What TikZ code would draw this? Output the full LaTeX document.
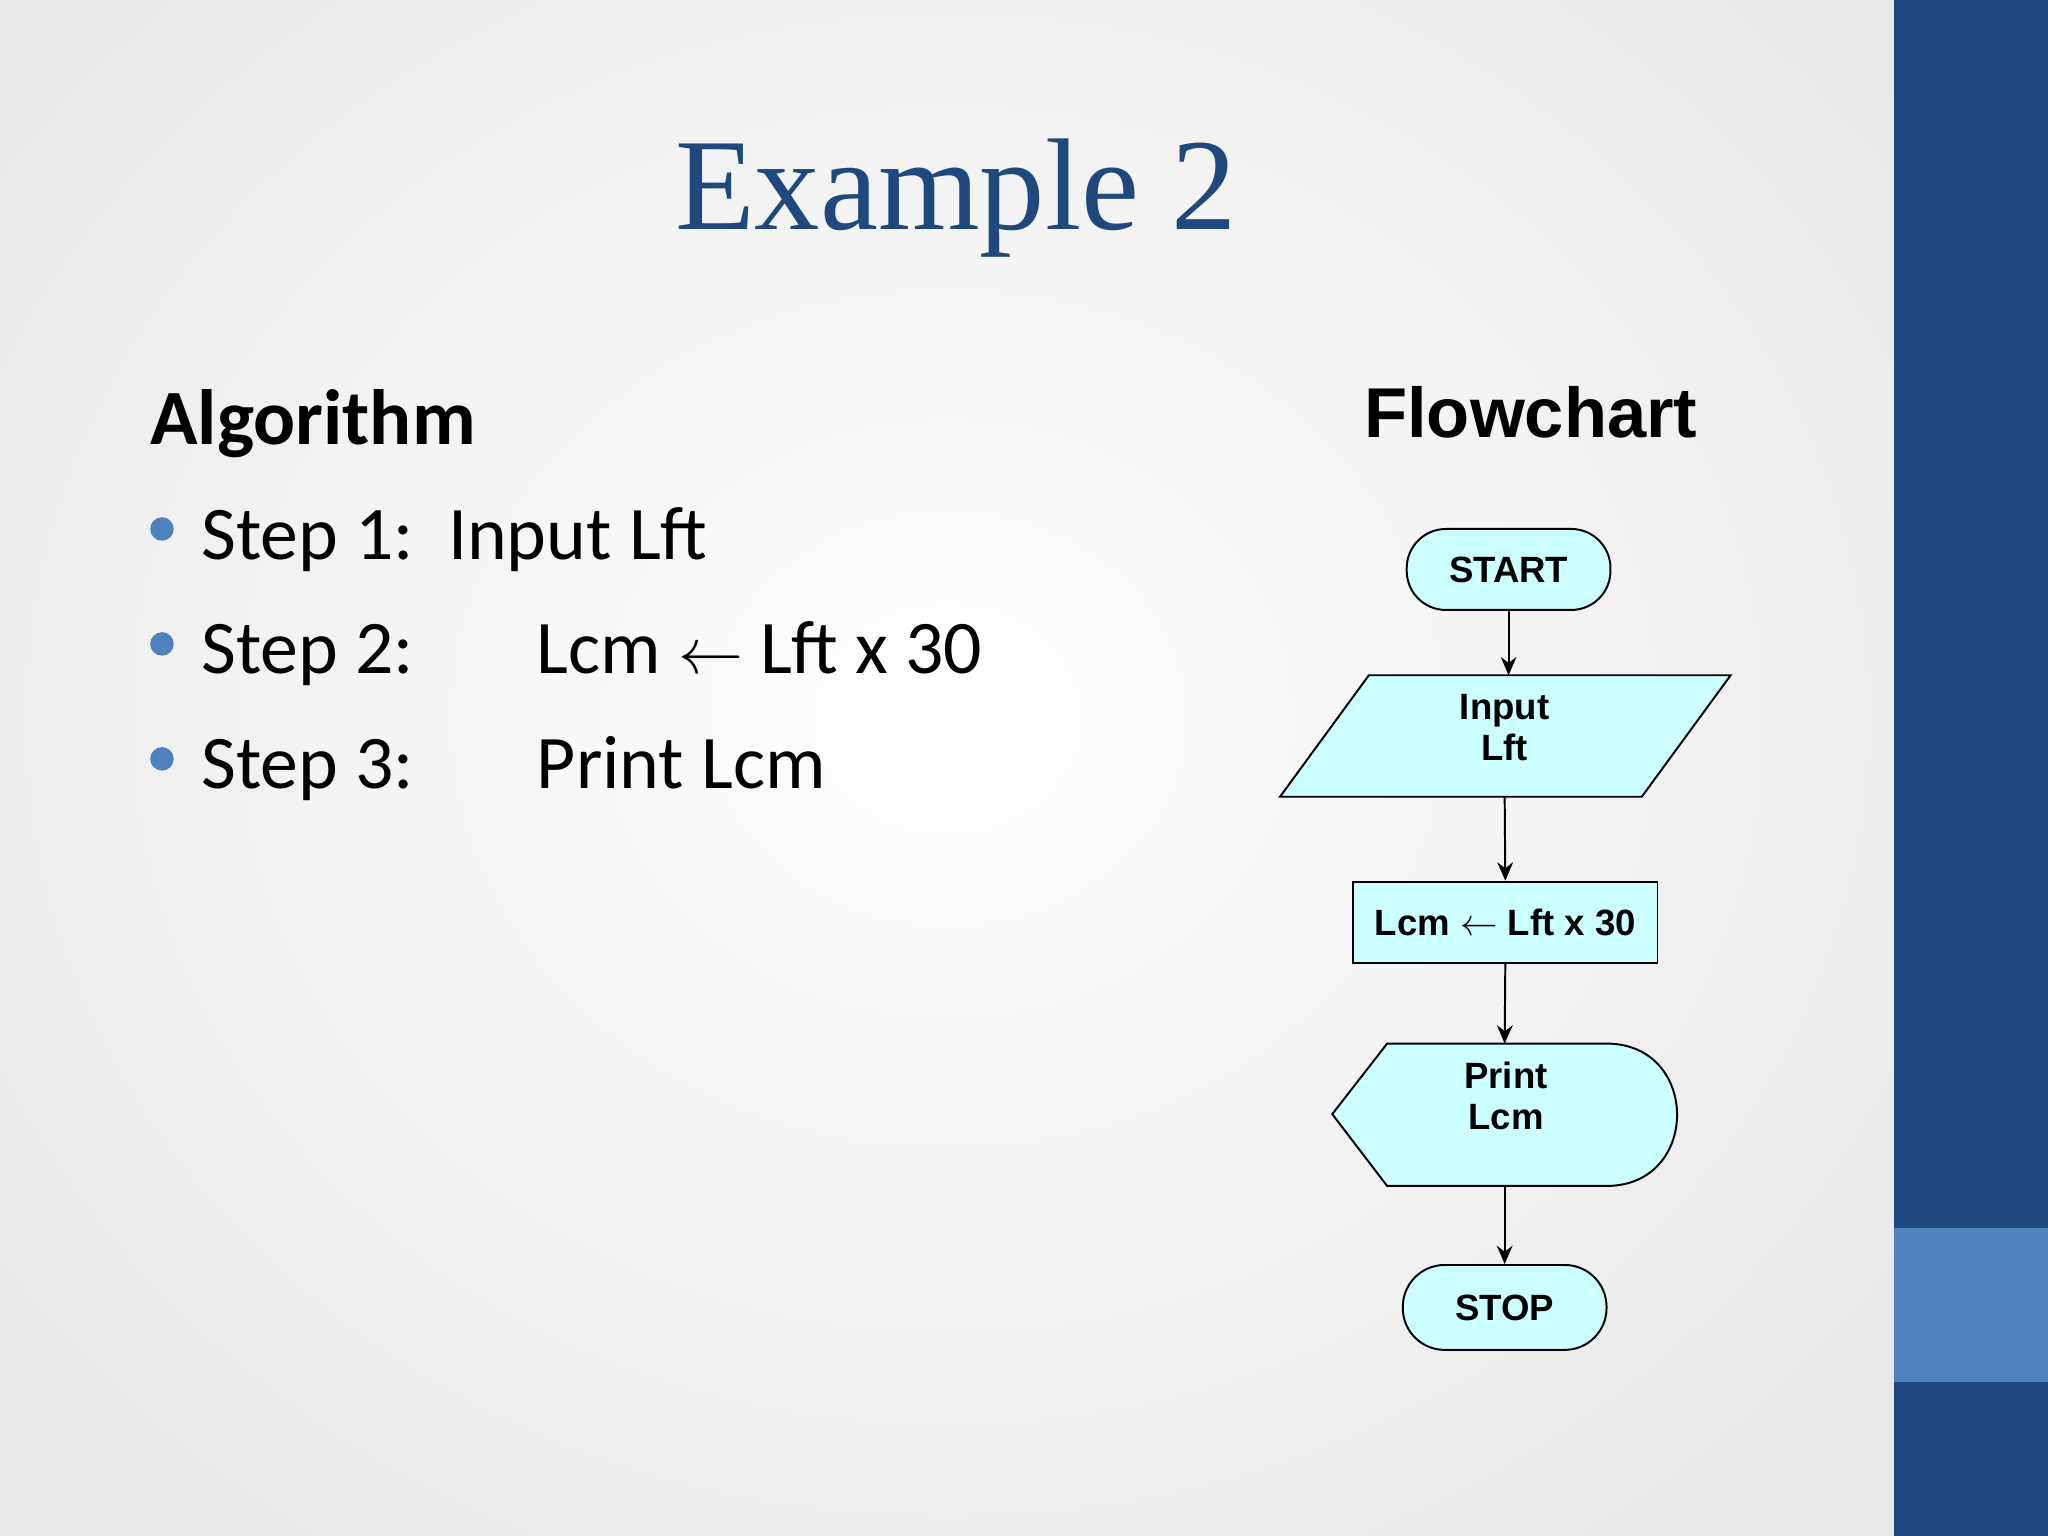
\documentclass[tikz,border=0pt]{standalone}
\usepackage{fontspec}
\setmainfont{Carlito}
\newfontfamily\arialf{Liberation Sans}
\newfontfamily\serf{Liberation Serif}
\usetikzlibrary{arrows.meta}
\definecolor{dblue}{HTML}{1F497D}
\definecolor{lblue}{HTML}{4F81BD}
\definecolor{cyanf}{HTML}{CCFFFF}
\tikzset{
 fc/.style={draw=black,fill=cyanf,line width=0.75pt},
 fct/.style={font=\arialf\bfseries\fontsize{14}{16}\selectfont,align=center},
 arr/.style={-{Stealth[length=7pt,width=6pt]},line width=0.75pt},
 stept/.style={anchor=base west,font=\fontsize{29}{34}\selectfont},
}
\begin{document}
\begin{tikzpicture}[x=0.5pt,y=-0.5pt]
\useasboundingbox (0,0) rectangle (1568,1176);
\fill[black!9] (0,0) rectangle (1450,1176);
\shade[inner color=white,outer color=black!9] (-200,-250) rectangle (1650,1350);
\fill[dblue] (1450,0) rectangle (1568,1176);
\fill[lblue] (1450,940) rectangle (1568,1058);
\node[font=\serf\fontsize{50}{56}\selectfont,text=dblue] (title) at (732,152) {Example 2};
\node[anchor=base west,font=\bfseries\fontsize{30}{34}\selectfont] (alg) at (108,340) {Algorithm};
\foreach \y/\n in {405/1,493/2,581/3} \fill[lblue] (124,\y) circle (4.5pt);
\node[stept] (s1) at (147,428) {Step 1:\ \ Input Lft};
\node[stept] (s2) at (147,516) {Step 2:};
\node[stept] (s2b) at (404,516) {Lcm $\leftarrow$ Lft x 30};
\node[stept] (s3) at (147,604) {Step 3:};
\node[stept] (s3b) at (404,604) {Print Lcm};
\node[font=\arialf\bfseries\fontsize{27}{32}\selectfont] (fch) at (1172,316) {Flowchart};
% START
\node[fc,fct,rounded corners=15pt,minimum width=78pt,minimum height=31pt] (start) at (1155,436) {START};
% Input
\draw[fc] (1048,517) -- (1325,517) -- (1257,610) -- (980,610) -- cycle;
\node[fct] (inp) at (1152,557) {Input\\Lft};
\coordinate (inT) at (1155,517); \coordinate (inB) at (1152,610);
% process
\node[fc,fct,minimum width=116.5pt,minimum height=31pt] (proc) at (1152.5,706) {Lcm $\leftarrow$ Lft x 30};
% print
\draw[fc] (1020,853) -- (1062,799) -- (1230,799) .. controls (1302,799) and (1302,908) .. (1230,908) -- (1062,908) -- cycle;
\node[fct] (prt) at (1153,839) {Print\\Lcm};
\coordinate (prT) at (1152,799); \coordinate (prB) at (1152,908);
% stop
\node[fc,fct,rounded corners=16pt,minimum width=78pt,minimum height=32.5pt] (stop) at (1152,1001) {STOP};
\draw[arr] (start.south) -- (inT);
\draw[arr] (inB) -- (proc.north);
\draw[arr] (proc.south) -- (prT);
\draw[arr] (prB) -- (stop.north);
\end{tikzpicture}
\end{document}
